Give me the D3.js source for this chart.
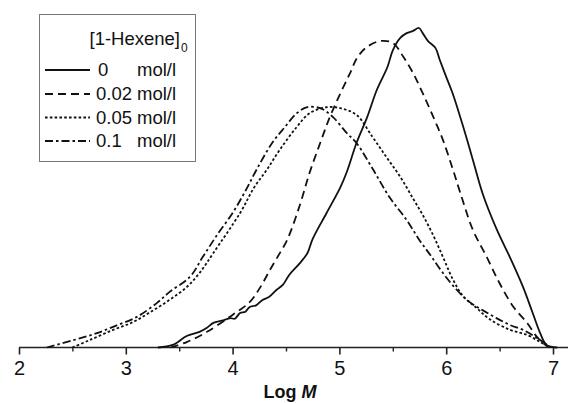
<!DOCTYPE html>
<html><head><meta charset="utf-8">
<script src="https://cdn.jsdelivr.net/npm/d3@7"></script>
<style>body{margin:0;background:#fff}svg{display:block}text{font-family:"Liberation Sans",Arial,sans-serif;fill:#111}</style>
</head><body><svg id="c" width="568" height="403"></svg>
<script>
// Data (x = Log M, y = normalized signal)
const solidX = [3.30,3.44,3.57,3.69,3.76,3.82,3.90,3.98,4.02,4.07,4.12,4.16,4.22,4.28,4.34,4.41,4.47,4.53,4.63,4.70,4.75,4.88,5.01,5.07,5.16,5.26,5.35,5.45,5.50,5.57,5.63,5.69,5.745,5.78,5.83,5.90,5.94,6.00,6.06,6.16,6.25,6.34,6.47,6.60,6.72,6.81,6.88,6.94,7.04];
const solidY = [0,0.008,0.036,0.049,0.062,0.077,0.084,0.092,0.090,0.108,0.112,0.127,0.132,0.149,0.158,0.180,0.196,0.227,0.264,0.295,0.340,0.421,0.502,0.550,0.640,0.721,0.806,0.878,0.930,0.969,0.984,0.991,1.0,0.984,0.959,0.937,0.900,0.847,0.796,0.690,0.587,0.483,0.372,0.280,0.189,0.108,0.045,0.008,0];
const dashX = [3.42,3.57,3.76,4.00,4.16,4.26,4.35,4.42,4.51,4.63,4.72,4.82,4.91,5.01,5.10,5.17,5.26,5.38,5.50,5.60,5.69,5.78,5.88,5.97,6.06,6.13,6.25,6.38,6.50,6.63,6.76,6.85,6.93,6.98];
const dashY = [0,0.017,0.049,0.102,0.142,0.189,0.243,0.283,0.336,0.446,0.546,0.640,0.721,0.796,0.859,0.909,0.941,0.959,0.953,0.909,0.859,0.796,0.721,0.649,0.560,0.486,0.368,0.283,0.201,0.127,0.076,0.033,0.008,0];
const dotX = [2.50,2.66,2.88,3.07,3.23,3.41,3.57,3.69,3.82,4.07,4.20,4.32,4.44,4.60,4.72,4.88,5.01,5.16,5.31,5.44,5.57,5.69,5.78,5.88,5.97,6.06,6.16,6.29,6.41,6.60,6.76,6.88,6.97];
const dotY = [0,0.023,0.055,0.080,0.111,0.149,0.189,0.233,0.296,0.421,0.500,0.556,0.618,0.690,0.733,0.752,0.749,0.728,0.659,0.596,0.534,0.466,0.415,0.350,0.283,0.215,0.160,0.122,0.088,0.055,0.039,0.017,0];
const ddX = [2.26,2.51,2.73,2.92,3.10,3.29,3.41,3.60,3.72,3.85,4.00,4.12,4.23,4.37,4.49,4.60,4.70,4.82,4.94,5.07,5.16,5.31,5.47,5.63,5.75,5.85,5.97,6.10,6.22,6.34,6.47,6.60,6.72,6.85,6.98];
const ddY = [0,0.023,0.045,0.070,0.095,0.139,0.174,0.221,0.283,0.350,0.421,0.490,0.560,0.640,0.690,0.733,0.752,0.749,0.721,0.671,0.640,0.560,0.470,0.399,0.336,0.290,0.233,0.180,0.142,0.117,0.092,0.070,0.055,0.030,0];
const seriesLabels = ["0","0.02","0.05","0.1"];
const unitLabel = "mol/l";
const xTicks = [2,3,4,5,6,7];
const xMinor = [2.5,3.5,4.5,5.5,6.5];

const series = [
  {xs: solidX, ys: solidY, dash: null},
  {xs: dashX, ys: dashY, dash: "8,5"},
  {xs: dotX, ys: dotY, dash: "2.6,2.2"},
  {xs: ddX, ys: ddY, dash: "8,3,2.5,3"}
];

const svg = d3.select("#c");
const x = d3.scaleLinear().domain([2,7]).range([19,553]);
const y = d3.scaleLinear().domain([0,1]).range([347.5,28]);

// axis
const ax = svg.append("g").attr("transform","translate(0,347.5)");
ax.append("line").attr("x1",x(2)).attr("x2",568).attr("stroke","#222").attr("stroke-width",1.6);
ax.call(g => {
  const a = d3.axisBottom(x).tickValues(xTicks).tickSize(7).tickPadding(5).tickFormat(d3.format("d"));
  const gg = g.append("g").call(a);
  gg.select(".domain").remove();
  gg.selectAll("line").attr("stroke","#222").attr("stroke-width",1.6);
  gg.selectAll("text").style("font-size","20px").attr("fill","#111").attr("dy","0.75em");
  const m = d3.axisBottom(x).tickValues(xMinor).tickSize(4).tickFormat("");
  const mg = g.append("g").call(m);
  mg.select(".domain").remove();
  mg.selectAll("line").attr("stroke","#222").attr("stroke-width",1.4);
});
const xl = svg.append("text").attr("x",290).attr("y",398).attr("text-anchor","middle")
  .style("font-size","18px").style("font-weight","bold");
xl.append("tspan").text("Log ");
xl.append("tspan").text("M").style("font-style","italic");

// curves
const line = d3.line().x(d=>x(d[0])).y(d=>y(d[1])).curve(d3.curveCatmullRom.alpha(0.5));
series.forEach(s => {
  const pts = s.xs.map((v,i)=>[v,s.ys[i]]);
  svg.append("path").attr("d",line(pts)).attr("fill","none").attr("stroke","#111")
    .attr("stroke-width",1.8).attr("stroke-dasharray",s.dash);
});

// legend
const lg = svg.append("g");
lg.append("rect").attr("x",39.5).attr("y",14.5).attr("width",156).attr("height",147)
  .attr("fill","#fff").attr("stroke","#777").attr("stroke-width",1);
lg.append("text").attr("x",180).attr("y",45).attr("text-anchor","end").style("font-size","18.5px").text("[1-Hexene]");
lg.append("text").attr("x",181).attr("y",52).style("font-size","12px").text("0");
const rowY = [76,100,123.5,147];
series.forEach((s,i)=>{
  lg.append("line").attr("x1",45).attr("x2",90).attr("y1",rowY[i]-6).attr("y2",rowY[i]-6)
    .attr("stroke","#111").attr("stroke-width",1.9).attr("stroke-dasharray",s.dash);
  lg.append("text").attr("x", i===0?98:96).attr("y",rowY[i]).style("font-size","18.5px").text(seriesLabels[i]);
  lg.append("text").attr("x",137).attr("y",rowY[i]).style("font-size","18.5px").text(unitLabel);
});
</script></body></html>
